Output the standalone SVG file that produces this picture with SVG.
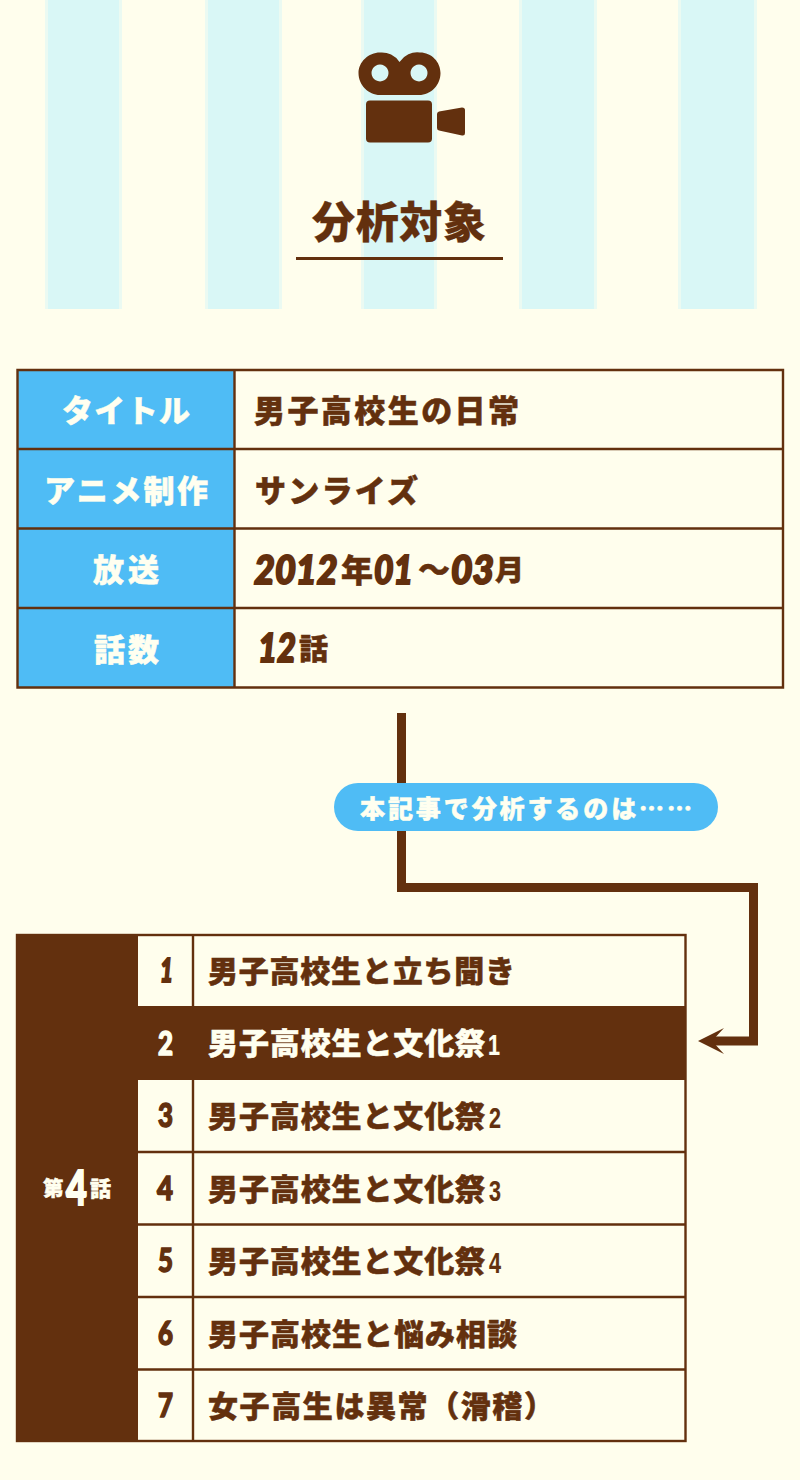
<svg xmlns="http://www.w3.org/2000/svg" width="800" height="1480" viewBox="0 0 800 1480">
<style>
.s{fill:#d9f7f6}.se{fill:#ebfaf2}
.l{stroke:#63300e;fill:none}
text{font-family:"Noto Sans CJK JP","Noto Sans",sans-serif;font-weight:900;fill:#63300e;stroke:#63300e;stroke-width:.5}
.w{fill:#fffff0;stroke:#fffff0}
.n{font-family:"Lato","Liberation Sans",sans-serif;font-style:italic;stroke-width:2;font-size:40px}
.m{font-family:"Lato","Liberation Sans",sans-serif;stroke-width:1.5;font-size:33px}
.d{font-family:"Liberation Sans",sans-serif;font-weight:700;stroke-width:.2;font-size:29px}
.r{font-size:30px}.t{font-size:31px}
</style>
<rect width="800" height="1480" fill="#fffeed"/>
<g id="stripes">
<rect class="se" x="45" y="0" width="77" height="309"/><rect class="s" x="48" y="0" width="71" height="309"/>
<rect class="se" x="205" y="0" width="77" height="309"/><rect class="s" x="208" y="0" width="71" height="309"/>
<rect class="se" x="361" y="0" width="76" height="309"/><rect class="s" x="364" y="0" width="70" height="309"/>
<rect class="se" x="519" y="0" width="78" height="309"/><rect class="s" x="522" y="0" width="72" height="309"/>
<rect class="se" x="678" y="0" width="79" height="309"/><rect class="s" x="681" y="0" width="73" height="309"/>
</g>
<g id="camera">
<path fill="#63300e" fill-rule="evenodd" d="M380 52.500A21 21 0 0 1 399.500 62A21 21 0 0 1 420 52.500C431.500 52.500 440.500 62 440.500 73C440.500 85 431 95 419 95H380C368.500 95 358.500 85 358.500 73C358.500 62 368.500 52.500 380 52.500ZM380 64.500a8.500 8.500 0 1 0 .01 0ZM419 64.500a8.500 8.500 0 1 0 .01 0Z"/>
<rect x="366" y="100.500" width="66" height="42" rx="4" fill="#63300e"/>
<path d="M437 114Q437 112 439 111.500L462 107.500Q465 107.500 465 110V133Q465 136 462 135.500L439 130.500Q437 130 437 128Z" fill="#63300e"/>
</g>
<g id="title">
<text x="312" y="238" font-size="43" textLength="174" lengthAdjust="spacing" style="stroke-width:.3">分析対象</text>
<rect x="296" y="257" width="207" height="3" fill="#63300e"/>
</g>
<g id="info-table">
<rect x="17.500" y="370" width="217" height="317.500" fill="#4fbcf5"/>
<path class="l" stroke-width="2.400" d="M17.500 370H783V687.500H17.500ZM234.500 370V687.500M17.500 449H783M17.500 528.500H783M17.500 608H783"/>
</g>
<g id="row-title"><text class="w t" x="62" y="422" textLength="128">タイトル</text><text class="t" x="254" y="422" textLength="265">男子高校生の日常</text></g>
<g id="row-studio"><text class="w t" x="44" y="502" textLength="164">アニメ制作</text><text class="t" x="255" y="502" textLength="163">サンライズ</text></g>
<g id="row-air"><text class="w t" x="93" y="581" textLength="66">放送</text>
<text class="n" transform="translate(254 584) scale(.9 1)">2012</text><text style="font-size:32px" x="341" y="582">年</text><text class="n" x="374" y="584" textLength="39" lengthAdjust="spacingAndGlyphs">01</text><text style="font-size:32px" x="418" y="581">～</text><text class="n" x="451" y="584" textLength="43" lengthAdjust="spacingAndGlyphs">03</text><text style="font-size:29px" x="495" y="581">月</text></g>
<g id="row-count"><text class="w t" x="94" y="661" textLength="65">話数</text><text class="n" transform="translate(258 662) scale(.82 1)">12</text><text style="font-size:29px" x="299" y="660">話</text></g>
<g id="connector">
<path class="l" stroke-width="9" d="M401.500 713V887.500H753.500V1041H712"/>
<path fill="#63300e" d="M698 1041L724 1028L712 1041L724 1054Z"/>
</g>
<g id="pill">
<rect x="334" y="783" width="384" height="48" rx="24" fill="#4fbcf5"/>
<text class="w" x="360" y="818" font-size="25" textLength="332">本記事で分析するのは……</text>
</g>
<g id="list-table">
<rect x="17" y="935" width="668.500" height="506" fill="#fffeed" stroke="#63300e" stroke-width="2.400"/>
<rect x="16" y="934" width="122" height="508" fill="#63300e"/>
<rect x="138" y="1006" width="548" height="74" fill="#63300e"/>
<path class="l" stroke-width="2.400" d="M193 935V1006M193 1080V1441M138 1152H685M138 1224.500H685M138 1297H685M138 1369.500H685"/>
</g>
<g id="ep-label"><text class="w" x="43" y="1196" font-size="20.500">第</text><text class="w m" transform="translate(66 1205) scale(.75 1)" style="font-size:48px;stroke-width:2">4</text><text class="w" x="90" y="1196" font-size="21">話</text></g>
<g id="ep1"><text class="n" x="160" y="982" textLength="13" lengthAdjust="spacingAndGlyphs" style="font-size:33px">1</text><text class="r" x="208" y="982" textLength="307">男子高校生と立ち聞き</text></g>
<g id="ep2"><text class="m w" x="158" y="1055" textLength="15" lengthAdjust="spacingAndGlyphs">2</text><text class="r w" x="208" y="1054" textLength="277">男子高校生と文化祭</text><text class="d w" x="488" y="1055" textLength="12" lengthAdjust="spacingAndGlyphs">1</text></g>
<g id="ep3"><text class="m" x="158" y="1127" textLength="15" lengthAdjust="spacingAndGlyphs">3</text><text class="r" x="208" y="1127" textLength="277">男子高校生と文化祭</text><text class="d" x="489" y="1128" textLength="12" lengthAdjust="spacingAndGlyphs">2</text></g>
<g id="ep4"><text class="m" x="157" y="1200" textLength="16" lengthAdjust="spacingAndGlyphs">4</text><text class="r" x="208" y="1200" textLength="277">男子高校生と文化祭</text><text class="d" x="489" y="1201" textLength="12" lengthAdjust="spacingAndGlyphs">3</text></g>
<g id="ep5"><text class="m" x="158" y="1272" textLength="15" lengthAdjust="spacingAndGlyphs">5</text><text class="r" x="208" y="1272" textLength="277">男子高校生と文化祭</text><text class="d" x="489" y="1273" textLength="12" lengthAdjust="spacingAndGlyphs">4</text></g>
<g id="ep6"><text class="m" x="158" y="1345" textLength="15" lengthAdjust="spacingAndGlyphs">6</text><text class="r" x="208" y="1345" textLength="309">男子高校生と悩み相談</text></g>
<g id="ep7"><text class="m" x="158" y="1417" textLength="15" lengthAdjust="spacingAndGlyphs">7</text><text class="r" x="208" y="1417" textLength="346">女子高生は異常（滑稽）</text></g>
</svg>
